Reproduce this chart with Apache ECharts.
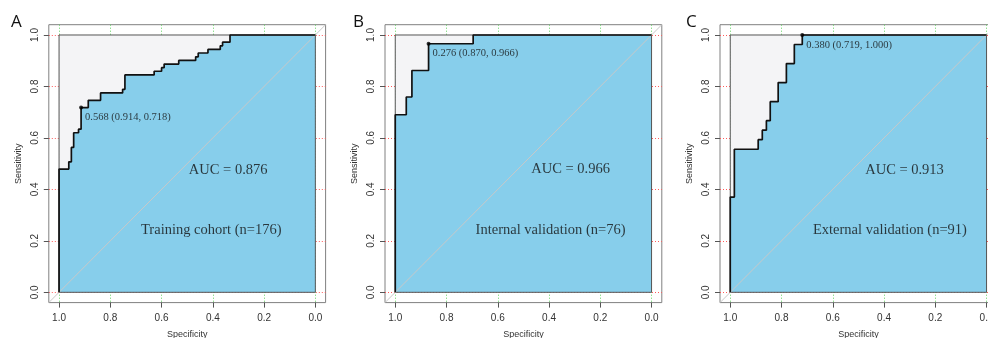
<!DOCTYPE html>
<html>
<head>
<meta charset="utf-8">
<script src="https://cdn.jsdelivr.net/npm/echarts@6/dist/echarts.min.js"></script>
<style>
  html, body { margin: 0; padding: 0; background: #fff; }
  #chart { width: 988px; height: 338px; }
</style>
</head>
<body>
<div id="chart"></div>
<script>
// ROC step corners (specificity, sensitivity)
const trainSpec = [1, 1, 0.962, 0.952, 0.943, 0.924, 0.914, 0.886, 0.838, 0.752, 0.743, 0.629, 0.600, 0.590, 0.533, 0.467, 0.457, 0.419, 0.371, 0.362, 0.333, 0];
const trainSens = [0, 0.479, 0.507, 0.563, 0.620, 0.634, 0.718, 0.746, 0.775, 0.789, 0.845, 0.859, 0.873, 0.887, 0.901, 0.915, 0.930, 0.944, 0.958, 0.972, 1, 1];
const internalSpec = [1, 1, 0.957, 0.935, 0.870, 0.696, 0];
const internalSens = [0, 0.690, 0.759, 0.862, 0.966, 1, 1];
const externalSpec = [1, 1, 0.984, 0.891, 0.875, 0.859, 0.844, 0.813, 0.781, 0.750, 0.719, 0];
const externalSens = [0, 0.370, 0.556, 0.593, 0.630, 0.667, 0.741, 0.815, 0.889, 0.963, 1, 1];

const panelLetters = ['A', 'B', 'C'];
const cohorts = ['Training cohort (n=176)', 'Internal validation (n=76)', 'External validation (n=91)'];
const aucValues = [0.876, 0.966, 0.913];
const cutoffs = [0.568, 0.276, 0.380];
const cutoffSpec = [0.914, 0.870, 0.719];
const cutoffSens = [0.718, 0.966, 1.000];
const axisTicks = [0, 0.2, 0.4, 0.6, 0.8, 1.0];

// layout
const gridLefts = [48.8, 385, 720];
const letterLefts = [6, 348, 681];
const aucPos = [[0.34, 0.475], [0.316, 0.478], [0.32, 0.475]];
const cohortPos = [[0.406, 0.242], [0.394, 0.242], [0.377, 0.242]];

const curves = [
    [trainSpec, trainSens],
    [internalSpec, internalSens],
    [externalSpec, externalSens]
];

const sans = 'Liberation Sans, Arial, sans-serif';
const serif = 'Liberation Serif, Times New Roman, serif';

const chart = echarts.init(document.getElementById('chart'));

const grid = [], xAxis = [], yAxis = [], series = [], title = [];

curves.forEach(([spec, sens], i) => {
    const curve = spec.map((s, k) => [s, sens[k]]);
    const lo = axisTicks[0], hi = axisTicks[axisTicks.length - 1];
    const pad = (hi - lo) * 0.04;

    grid.push({
        left: gridLefts[i], top: 24.7, width: 276.8, height: 277.9,
        outerBoundsMode: 'none', containLabel: false,
        show: true, borderColor: '#808080', borderWidth: 1, backgroundColor: 'transparent'
    });
    title.push({
        text: panelLetters[i], left: letterLefts[i], top: 9,
        textStyle: { fontFamily: 'Open Sans, sans-serif', fontSize: 17, fontWeight: 'normal', color: '#111' }
    });
    xAxis.push({
        gridIndex: i, type: 'value', inverse: true,
        min: lo - pad, max: hi + pad,
        axisLine: { show: false, onZero: false },
        axisTick: { show: true, length: 5, customValues: axisTicks, lineStyle: { color: '#555' } },
        axisLabel: {
            customValues: axisTicks, margin: 11, fontSize: 10, color: '#333', fontFamily: sans,
            formatter: v => v.toFixed(1)
        },
        splitLine: { show: true, lineStyle: { type: [1, 2], color: '#5fd35f', width: 1 } },
        name: 'Specificity', nameLocation: 'middle', nameGap: 27,
        nameTextStyle: { fontSize: 9, color: '#333', fontFamily: sans }
    });
    yAxis.push({
        gridIndex: i, type: 'value',
        min: lo - pad, max: hi + pad,
        axisLine: { show: false, onZero: false },
        axisTick: { show: true, length: 5, customValues: axisTicks, lineStyle: { color: '#555' } },
        axisLabel: {
            customValues: axisTicks, margin: 9, fontSize: 10, color: '#333', fontFamily: sans,
            rotate: 90, formatter: v => v.toFixed(1)
        },
        splitLine: { show: true, lineStyle: { type: [1, 2], color: '#ff5a5a', width: 1 } },
        name: 'Sensitivity', nameLocation: 'middle', nameGap: 26,
        nameTextStyle: { fontSize: 9, color: '#333', fontFamily: sans }
    });

    const ax = { xAxisIndex: i, yAxisIndex: i, symbol: 'none', silent: true };
    // full square (max AUC) in light grey
    series.push(Object.assign({
        type: 'line', z: 1,
        data: [[hi, hi], [lo, hi]],
        lineStyle: { width: 0 },
        areaStyle: { color: '#f4f4f6', opacity: 1 }
    }, ax));
    // AUC polygon
    series.push(Object.assign({
        type: 'line', z: 2, step: 'end',
        data: curve,
        lineStyle: { width: 0 },
        areaStyle: { color: '#87ceeb', opacity: 1 }
    }, ax));
    // square outline
    series.push(Object.assign({
        type: 'line', z: 3,
        data: [[hi, lo], [hi, hi], [lo, hi], [lo, lo], [hi, lo]],
        lineStyle: { color: '#555', width: 1 }
    }, ax));
    // chance diagonal
    series.push(Object.assign({
        type: 'line', z: 3,
        data: [[hi + pad, lo - pad], [lo - pad, hi + pad]],
        lineStyle: { color: '#c8c8c8', width: 1 }
    }, ax));
    // ROC curve
    series.push(Object.assign({
        type: 'line', z: 4, step: 'end',
        data: curve,
        lineStyle: { color: '#111', width: 1.7 }
    }, ax));
    // best threshold
    series.push({
        type: 'scatter', xAxisIndex: i, yAxisIndex: i, z: 5, silent: true,
        symbolSize: 4, itemStyle: { color: '#000' },
        data: [[cutoffSpec[i], cutoffSens[i]]],
        label: {
            show: true, position: 'right', distance: 2, offset: [0, 10],
            fontFamily: serif, fontSize: 10.5, color: '#111',
            formatter: () => `${cutoffs[i].toFixed(3)} (${cutoffSpec[i].toFixed(3)}, ${cutoffSens[i].toFixed(3)})`
        }
    });
    // AUC and cohort text
    series.push({
        type: 'scatter', xAxisIndex: i, yAxisIndex: i, z: 5, silent: true,
        symbolSize: 1, itemStyle: { color: 'transparent' },
        data: [
            { value: aucPos[i], name: 'AUC = ' + aucValues[i].toFixed(3) },
            { value: cohortPos[i], name: cohorts[i] }
        ],
        label: {
            show: true, position: 'inside', formatter: '{b}',
            fontFamily: serif, fontSize: 14.5, color: '#111'
        }
    });
});

chart.setOption({ animation: false, title, grid, xAxis, yAxis, series });
</script>
</body>
</html>
